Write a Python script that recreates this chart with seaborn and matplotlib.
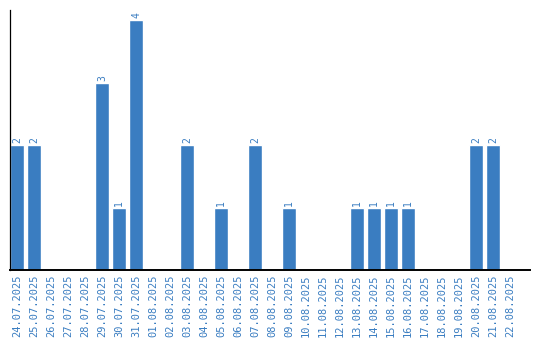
import matplotlib
matplotlib.use("Agg")
import matplotlib.pyplot as plt
import seaborn as sns
import pandas as pd

dates = ["24.07.2025", "25.07.2025", "26.07.2025", "27.07.2025", "28.07.2025",
         "29.07.2025", "30.07.2025", "31.07.2025", "01.08.2025", "02.08.2025",
         "03.08.2025", "04.08.2025", "05.08.2025", "06.08.2025", "07.08.2025",
         "08.08.2025", "09.08.2025", "10.08.2025", "11.08.2025", "12.08.2025",
         "13.08.2025", "14.08.2025", "15.08.2025", "16.08.2025", "17.08.2025",
         "18.08.2025", "19.08.2025", "20.08.2025", "21.08.2025", "22.08.2025"]
counts = [2, 2, 0, 0, 0, 3, 1, 4, 0, 0,
          2, 0, 1, 0, 2, 0, 1, 0, 0, 0,
          1, 1, 1, 1, 0, 0, 0, 2, 2, 0]

blue = "#3a7dc1"
sns.set_style("white")
plt.rcParams['font.family'] = ['DejaVu Sans Mono', 'DejaVu Sans']

df = pd.DataFrame({"date": dates, "count": counts})
fig = plt.figure(figsize=(5.4, 3.4), dpi=100)
ax = fig.add_axes([10/540, 70/340, 520/540, 260/340])
sns.barplot(data=df, x="date", y="count", color=blue, width=0.82,
            saturation=1, ax=ax, order=dates)
ax.set_xlim(-0.41, 30.17)
ax.set_ylim(0, 4.16)
for i, v in enumerate(counts):
    if v > 0:
        ax.text(i, v + 0.03, str(v), rotation=90, ha="center", va="bottom",
                color=blue, fontsize=7)
ax.set_xlabel("")
ax.set_ylabel("")
ax.set_yticks([])
ax.tick_params(axis="x", length=0, pad=3, labelsize=7.5, labelcolor=blue,
               labelrotation=90)
for s in ["top", "right"]:
    ax.spines[s].set_visible(False)
ax.spines["left"].set_color("black")
ax.spines["left"].set_linewidth(0.9)
ax.spines["bottom"].set_color("black")
ax.spines["bottom"].set_linewidth(1.4)
fig.savefig("out.png", dpi=100)
